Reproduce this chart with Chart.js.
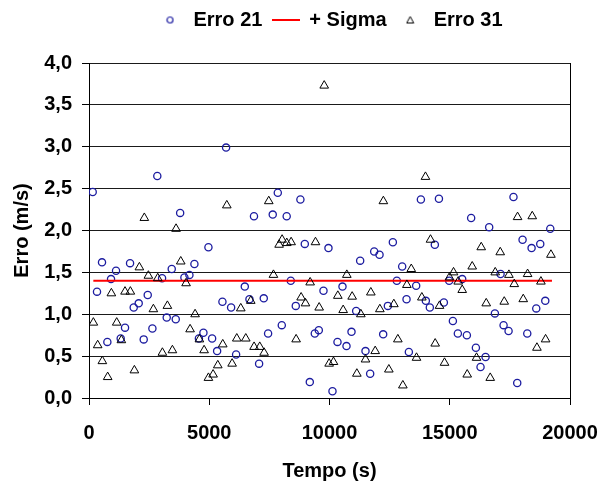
<!DOCTYPE html>
<html lang="pt">
<head>
<meta charset="utf-8">
<title>Erro x Tempo</title>
<script src="https://cdn.jsdelivr.net/npm/chart.js@4.4.1/dist/chart.umd.min.js"></script>
<style>
  html, body { margin: 0; padding: 0; background: #fff; }
  #wrap { width: 600px; height: 483px; position: relative; }
</style>
</head>
<body>
<div id="wrap"><canvas id="chartErro"></canvas></div>
<script>
// Dados (tempo em s, erro em m/s)
const tempo21 = [154, 333, 541, 763, 916, 1124, 1318, 1498, 1707, 1859, 2067, 2275, 2442, 2636, 2840, 3038, 3232, 3440, 3607, 3790,
  3967, 4175, 4383, 4570, 4758, 4966, 5119, 5327, 5548, 5700, 5909, 6117, 6478, 6672, 6860, 7073, 7267, 7447, 7640, 7850,
  8016, 8220, 8390, 8598, 8790, 8973, 9181, 9389, 9555, 9750, 9957, 10124, 10332, 10540, 10707, 10915, 11109, 11275, 11497, 11691,
  11858, 12080, 12232, 12427, 12634, 12800, 13022, 13203, 13300, 13604, 13800, 14006, 14172, 14380, 14550, 14755, 14977, 15130, 15337, 15518,
  15712, 15890, 16087, 16280, 16489, 16640, 16877, 17113, 17238, 17446, 17650, 17806, 18028, 18223, 18403, 18597, 18763, 18972, 19180];
const erro21 = [2.46, 1.27, 1.62, 0.67, 1.42, 1.52, 0.71, 0.84, 1.61, 1.08, 1.13, 0.70, 1.23, 0.83, 2.65, 1.43, 0.96, 1.54, 0.94, 2.21,
  1.44, 1.47, 1.60, 0.71, 0.78, 1.80, 0.71, 0.56, 1.15, 2.99, 1.08, 0.52, 1.33, 1.18, 2.17, 0.41, 1.19, 0.77, 2.19, 2.45,
  0.87, 2.17, 1.40, 1.10, 2.37, 1.84, 0.19, 0.77, 0.81, 1.28, 1.79, 0.08, 0.67, 1.33, 0.62, 0.79, 1.04, 1.64, 0.56, 0.29,
  1.75, 1.71, 0.76, 1.10, 1.86, 1.40, 1.57, 1.18, 0.55, 1.34, 2.37, 1.16, 1.08, 1.83, 2.38, 1.14, 1.40, 0.92, 0.77, 1.42,
  0.75, 2.15, 0.60, 0.37, 0.49, 2.04, 1.01, 1.48, 0.87, 0.80, 2.40, 0.18, 1.89, 0.77, 1.79, 1.07, 1.84, 1.16, 2.02];

const tempo31 = [181, 361, 555, 777, 930, 1152, 1346, 1498, 1720, 1887, 2095, 2300, 2469, 2677, 2858, 3052, 3260, 3468, 3620, 3815,
  4036, 4203, 4411, 4591, 4786, 4966, 5160, 5355, 5562, 5730, 5951, 6145, 6311, 6519, 6726, 6864, 7100, 7281, 7475, 7669,
  7905, 8030, 8224, 8404, 8612, 8820, 9001, 9195, 9417, 9570, 9780, 9985, 10166, 10346, 10568, 10720, 10942, 11137, 11303, 11497,
  11719, 11900, 12094, 12240, 12468, 12676, 12842, 13050, 13217, 13400, 13618, 13840, 13990, 14200, 14394, 14575, 14783, 14990, 15157, 15351,
  15518, 15726, 15934, 16114, 16309, 16517, 16683, 16891, 17099, 17266, 17460, 17682, 17820, 18056, 18237, 18430, 18625, 18791, 18985, 19207];
const erro31 = [0.90, 0.63, 0.44, 0.25, 1.25, 0.90, 0.69, 1.27, 1.27, 0.33, 1.56, 2.15, 1.46, 1.06, 1.43, 0.54, 1.10, 0.57, 2.02, 1.63,
  1.37, 0.82, 1.00, 0.70, 0.57, 0.24, 0.28, 0.39, 0.64, 2.30, 0.41, 0.71, 1.07, 0.71, 1.16, 0.61, 0.61, 0.54, 2.35, 1.47,
  1.83, 1.89, 1.85, 1.86, 0.70, 1.20, 1.13, 1.38, 1.86, 1.08, 3.73, 0.41, 0.43, 1.22, 1.05, 1.47, 1.21, 0.29, 1.00, 0.46,
  1.26, 0.56, 1.06, 2.35, 0.34, 1.12, 0.70, 0.15, 1.35, 1.54, 0.48, 1.20, 2.64, 1.89, 0.65, 1.10, 0.42, 1.44, 1.50, 1.39,
  1.29, 0.28, 1.57, 0.48, 1.80, 1.13, 0.24, 1.50, 1.74, 1.15, 1.47, 1.36, 2.16, 1.18, 1.48, 2.17, 0.60, 1.39, 0.70, 1.71];

// Linha "+ Sigma"
const tempoSigma = [180, 19250];
const valorSigma = [1.40, 1.40];

const legendas = ['Erro 21', '+ Sigma', 'Erro 31'];
const xTicks = [0, 5000, 10000, 15000, 20000];
const yTicks = [0, 0.5, 1, 1.5, 2, 2.5, 3, 3.5, 4];

(function() {
  'use strict';

  const FONT = '"Liberation Sans", Arial, sans-serif';
  const AZUL = '#1c1ca0';

  function pares(xs, ys) {
    return xs.map((x, i) => ({ x: x, y: ys[i] }));
  }

  // Marcadores da legenda desenhados à parte
  function marcador(w, h, desenhar) {
    const c = document.createElement('canvas');
    c.width = w;
    c.height = h;
    desenhar(c.getContext('2d'));
    return c;
  }

  const marcadores = [
    marcador(9, 9, ctx => {
      ctx.strokeStyle = AZUL;
      ctx.lineWidth = 1.2;
      ctx.beginPath();
      ctx.arc(4.5, 4.5, 3, 0, Math.PI * 2);
      ctx.stroke();
    }),
    marcador(28, 4, ctx => {
      ctx.fillStyle = '#ff0000';
      ctx.fillRect(0, 1, 28, 2);
    }),
    marcador(9, 9, ctx => {
      ctx.strokeStyle = '#000';
      ctx.lineWidth = 1;
      ctx.beginPath();
      ctx.moveTo(4.5, 1);
      ctx.lineTo(8, 7.5);
      ctx.lineTo(1, 7.5);
      ctx.closePath();
      ctx.stroke();
    })
  ];

  // Borda direita da área do gráfico + espaço extra abaixo da legenda
  const bordaPlot = {
    id: 'bordaPlot',
    beforeLayout(chart) {
      const legend = chart.legend;
      if (legend && !legend._ajustada) {
        const fitOrig = legend.fit;
        legend.fit = function() {
          fitOrig.call(this);
          this.height += 23;
        };
        legend._ajustada = true;
      }
    },
    afterDraw(chart) {
      const a = chart.chartArea;
      const ctx = chart.ctx;
      ctx.save();
      ctx.strokeStyle = '#000';
      ctx.lineWidth = 1;
      ctx.beginPath();
      ctx.moveTo(Math.round(a.right) + 0.5, a.top);
      ctx.lineTo(Math.round(a.right) + 0.5, a.bottom);
      ctx.stroke();
      ctx.restore();
    }
  };

  const config = {
    type: 'scatter',
    data: {
      datasets: [
        {
          label: legendas[0],
          data: pares(tempo21, erro21),
          pointStyle: 'circle',
          pointRadius: 3.6,
          borderColor: AZUL,
          backgroundColor: 'rgba(0,0,0,0)',
          borderWidth: 1.3,
          order: 2
        },
        {
          label: legendas[1],
          data: pares(tempoSigma, valorSigma),
          showLine: true,
          pointRadius: 0,
          borderColor: '#ff0000',
          backgroundColor: '#ff0000',
          borderWidth: 2,
          order: 1
        },
        {
          label: legendas[2],
          data: pares(tempo31, erro31),
          pointStyle: 'triangle',
          pointRadius: 5,
          borderColor: '#000',
          backgroundColor: 'rgba(0,0,0,0)',
          borderWidth: 1,
          order: 0
        }
      ]
    },
    options: {
      responsive: true,
      maintainAspectRatio: false,
      animation: false,
      events: [],
      layout: { padding: { left: 0, right: 0, top: 0, bottom: 0 } },
      plugins: {
        tooltip: { enabled: false },
        legend: {
          display: true,
          position: 'top',
          fullSize: false,
          labels: {
            usePointStyle: true,
            pointStyleWidth: 27,
            padding: 10,
            color: '#000',
            font: { family: FONT, size: 20, weight: 'bold' },
            generateLabels: function(chart) {
              return chart.data.datasets.map((ds, i) => ({
                text: ds.label,
                datasetIndex: i,
                pointStyle: marcadores[i],
                fillStyle: 'rgba(0,0,0,0)',
                strokeStyle: 'rgba(0,0,0,0)',
                lineWidth: 0,
                fontColor: '#000',
                hidden: false
              }));
            }
          }
        }
      },
      scales: {
        x: {
          type: 'linear',
          min: 0,
          max: 20000,
          afterBuildTicks: s => { s.ticks = xTicks.map(v => ({ value: v })); },
          afterFit: s => {
            s.height = 85;
            s.paddingLeft = 0;
            s.paddingRight = 30;
          },
          grid: { drawOnChartArea: false, drawTicks: true, tickLength: 7, color: '#000', tickColor: '#000' },
          border: { display: true, color: '#000', width: 1 },
          ticks: {
            padding: 16,
            color: '#000',
            maxRotation: 0,
            font: { family: FONT, size: 20, weight: 'bold' },
            callback: v => String(v)
          },
          title: {
            display: true,
            text: 'Tempo (s)',
            color: '#000',
            padding: { top: 0, bottom: 0 },
            font: { family: FONT, size: 20, weight: 'bold' }
          }
        },
        y: {
          type: 'linear',
          min: 0,
          max: 4,
          afterBuildTicks: s => { s.ticks = yTicks.map(v => ({ value: v })); },
          afterFit: s => { s.width = 89; },
          grid: { color: '#1a1a1a', lineWidth: 1, tickLength: 7, tickColor: '#000' },
          border: { display: true, color: '#000', width: 1 },
          ticks: {
            padding: 10,
            color: '#000',
            font: { family: FONT, size: 20, weight: 'bold' },
            callback: v => v.toFixed(1).replace('.', ',')
          },
          title: {
            display: true,
            text: 'Erro (m/s)',
            color: '#000',
            padding: { top: 10, bottom: 0 },
            font: { family: FONT, size: 20, weight: 'bold' }
          }
        }
      }
    },
    plugins: [bordaPlot]
  };

  const ctx = document.getElementById('chartErro').getContext('2d');
  window.chartErro = new Chart(ctx, config);
})();
</script>
</body>
</html>
